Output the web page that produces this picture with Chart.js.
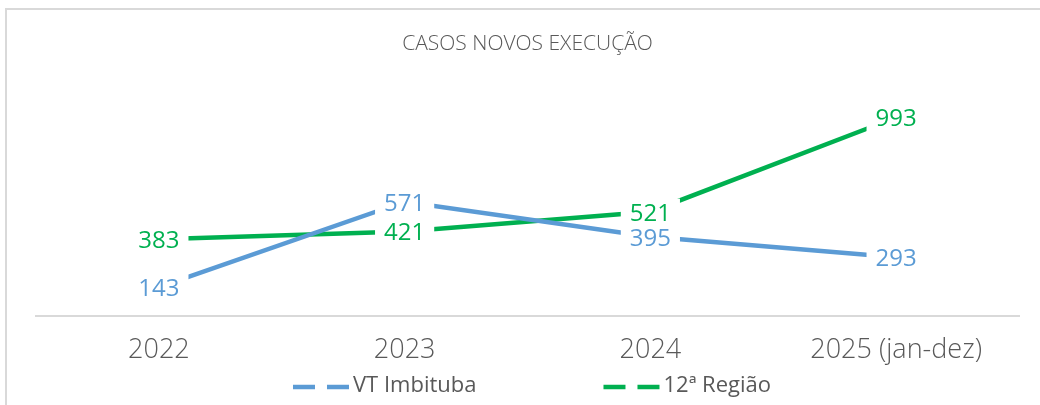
<!DOCTYPE html>
<html>
<head>
<meta charset="utf-8">
<script src="https://cdn.jsdelivr.net/npm/chart.js@4"></script>
<style>
  html, body { margin: 0; padding: 0; background: #ffffff; }
  #wrap { position: relative; width: 1040px; height: 405px; overflow: hidden; }
  #frame { position: absolute; left: 5px; top: 8px; width: 1100px; height: 500px; border: 2px solid #d9d9d9; box-sizing: border-box; }
  #c { position: absolute; left: 0; top: 0; }
</style>
</head>
<body>
<div id="wrap">
  <div id="frame"></div>
  <canvas id="c" width="1040" height="405"></canvas>
</div>
<script>
const categories = ['2022', '2023', '2024', '2025 (jan-dez)'];
const vtImbituba = [143, 571, 395, 293];
const regiao12 = [383, 421, 521, 993];
const seriesNames = ['VT Imbituba', '12ª Região'];
const seriesColors = ['#5B9BD5', '#00B050'];
const chartTitle = 'CASOS NOVOS EXECUÇÃO';

const FONT = "'Open Sans', 'Noto Sans', sans-serif";

const labelPlugin = {
  id: 'boxLabels',
  afterDatasetsDraw(chart) {
    const ctx = chart.ctx;
    ctx.save();
    ctx.font = "500 24px " + FONT;
    ctx.textAlign = 'center';
    ctx.textBaseline = 'middle';
    chart.data.datasets.forEach((ds, di) => {
      const meta = chart.getDatasetMeta(di);
      meta.data.forEach((pt, i) => {
        const txt = String(ds.data[i]);
        const w = ctx.measureText(txt).width;
        ctx.fillStyle = '#ffffff';
        ctx.fillRect(pt.x - w / 2 - 9, pt.y - 13, w + 18, 28);
        ctx.fillStyle = ds.borderColor;
        ctx.fillText(txt, pt.x, pt.y + 2);
      });
    });
    ctx.restore();
  }
};

const legendPlugin = {
  id: 'dashLegend',
  afterDraw(chart) {
    const ctx = chart.ctx;
    ctx.save();
    ctx.font = "22px " + FONT;
    ctx.textBaseline = 'middle';
    const markerW = 56, textGap = 4, itemGap = 127;
    const widths = seriesNames.map(n => markerW + textGap + ctx.measureText(n).width);
    const total = widths[0] + itemGap + widths[1];
    let x = 532 - total / 2;
    const y = 387;
    seriesNames.forEach((n, i) => {
      ctx.strokeStyle = seriesColors[i];
      ctx.lineWidth = 4.5;
      ctx.lineCap = 'butt';
      ctx.setLineDash([22, 12]);
      ctx.beginPath();
      ctx.moveTo(x, y);
      ctx.lineTo(x + markerW, y);
      ctx.stroke();
      ctx.setLineDash([]);
      ctx.fillStyle = '#595959';
      ctx.textAlign = 'left';
      ctx.fillText(n, x + markerW + textGap, y - 1);
      x += widths[i] + itemGap;
    });
    ctx.restore();
  }
};

new Chart(document.getElementById('c'), {
  type: 'line',
  data: {
    labels: categories,
    datasets: [
      { label: seriesNames[0], data: vtImbituba, borderColor: seriesColors[0], backgroundColor: seriesColors[0], borderWidth: 4.5, pointRadius: 0, tension: 0, clip: false },
      { label: seriesNames[1], data: regiao12, borderColor: seriesColors[1], backgroundColor: seriesColors[1], borderWidth: 4.5, pointRadius: 0, tension: 0, clip: false }
    ]
  },
  options: {
    responsive: false,
    animation: false,
    devicePixelRatio: 1,
    layout: { padding: { left: 36, right: 21, top: 0, bottom: 19 } },
    plugins: {
      legend: { display: false },
      tooltip: { enabled: false },
      title: {
        display: true,
        text: chartTitle,
        color: '#595959',
        font: { family: FONT, size: 21, weight: '300' },
        padding: { top: 31, bottom: 19 }
      }
    },
    scales: {
      x: {
        offset: true,
        grid: { display: false, drawTicks: false },
        border: { display: true, color: '#d9d9d9', width: 2 },
        ticks: { color: '#595959', font: { family: FONT, size: 27, weight: '300' }, padding: 19 }
      },
      y: {
        display: false,
        min: 0,
        max: 1205
      }
    }
  },
  plugins: [labelPlugin, legendPlugin]
});
</script>
</body>
</html>
